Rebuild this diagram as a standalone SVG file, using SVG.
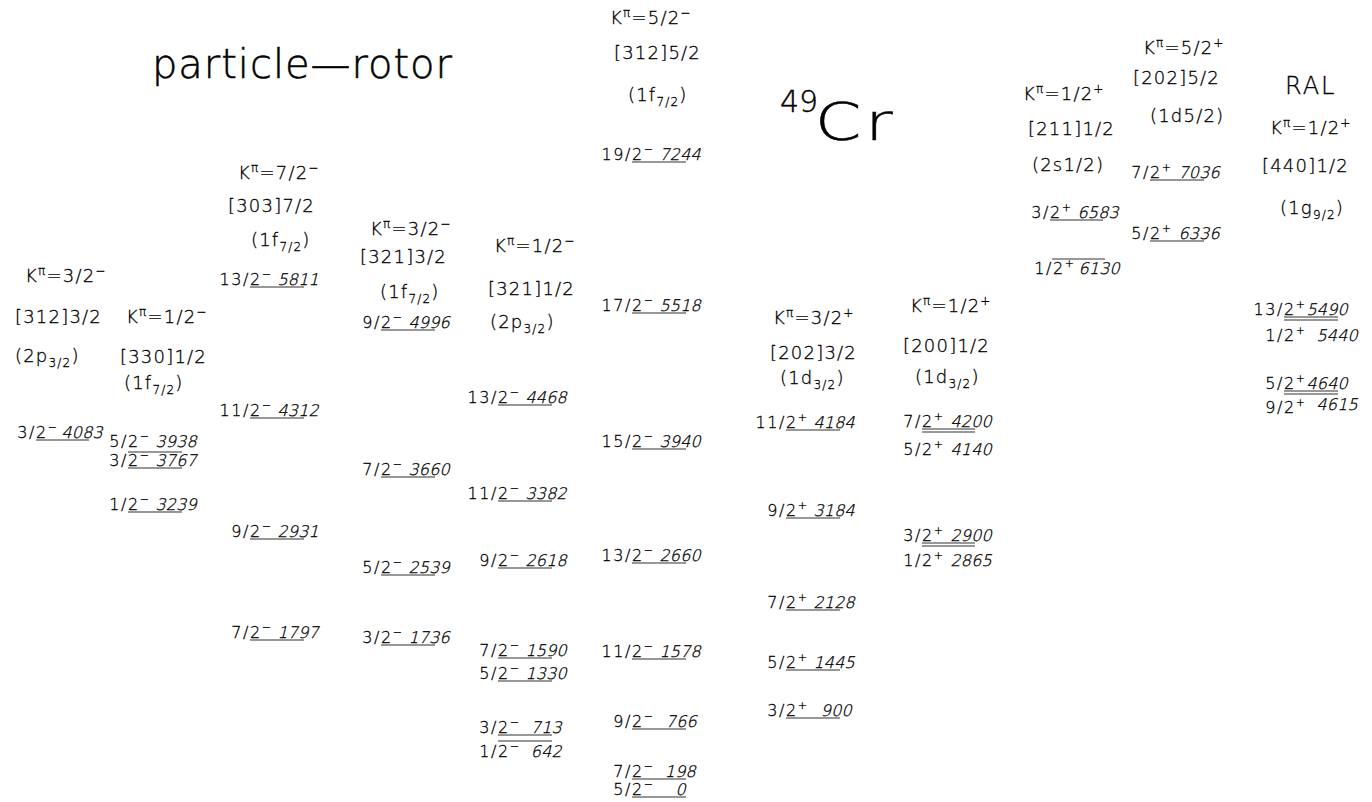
<svg xmlns="http://www.w3.org/2000/svg" width="1372" height="802" viewBox="0 0 1372 802">
<style>
text{font-family:"DejaVu Sans","Liberation Sans",sans-serif;fill:#000;font-weight:200;stroke:#000;stroke-width:0.3}
.hd{font-size:18px;letter-spacing:1.2px}
.lv{font-size:16px;letter-spacing:1.6px}
.en{font-size:16px;letter-spacing:0.2px}
.sp{font-size:11px}
.s2{font-size:12px}
.ln{stroke:#333;stroke-width:1.2;fill:none}
.title{font-size:40px;stroke-width:0.5}
</style>
<rect width="1372" height="802" fill="#fff"/>
<g id="titles">
<text class="title" x="152" y="78" textLength="300" lengthAdjust="spacing">particle—rotor</text>
<text x="780" y="112" style="font-size:30px;stroke-width:0.4">49</text>
<text transform="translate(815,140) scale(1.28,1)" style="font-size:52px;letter-spacing:3px;stroke-width:0.5">Cr</text>
<text x="1285" y="94" style="font-size:24px;letter-spacing:2px">RAL</text>
</g>
<g id="connectors"></g>

<g id="band1">
<text class="hd" x="25" y="282">K<tspan class="s2" dy="-7">π</tspan><tspan dy="7">=3/2</tspan><tspan class="s2" dy="-7">−</tspan></text>
<text class="hd" x="15" y="323">[312]3/2</text>
<text class="hd" x="15" y="362">(2p<tspan class="s2" dy="5">3/2</tspan><tspan dy="-5">)</tspan></text>
<g id="l1-4083"><text class="lv" x="36" y="438" text-anchor="end">3/</text><text class="lv" x="36" y="438">2<tspan class="sp" dy="-7">−</tspan></text><text class="en" transform="translate(103,438) skewX(-14)" text-anchor="end">4083</text><line class="ln" x1="36" y1="440" x2="89" y2="440"/></g>
</g>

<g id="band2">
<text class="hd" x="126" y="323">K<tspan class="s2" dy="-7">π</tspan><tspan dy="7">=1/2</tspan><tspan class="s2" dy="-7">−</tspan></text>
<text class="hd" x="120" y="363">[330]1/2</text>
<text class="hd" x="124" y="389">(1f<tspan class="s2" dy="5">7/2</tspan><tspan dy="-5">)</tspan></text>
<g id="l2-3938"><text class="lv" x="128" y="447" text-anchor="end">5/</text><text class="lv" x="128" y="447">2<tspan class="sp" dy="-7">−</tspan></text><text class="en" transform="translate(197,447) skewX(-14)" text-anchor="end">3938</text><line class="ln" x1="128" y1="452" x2="182" y2="452"/></g>
<g id="l2-3767"><text class="lv" x="128" y="466" text-anchor="end">3/</text><text class="lv" x="128" y="466">2<tspan class="sp" dy="-7">−</tspan></text><text class="en" transform="translate(197,466) skewX(-14)" text-anchor="end">3767</text><line class="ln" x1="128" y1="468" x2="182" y2="468"/></g>
<g id="l2-3239"><text class="lv" x="128" y="510" text-anchor="end">1/</text><text class="lv" x="128" y="510">2<tspan class="sp" dy="-7">−</tspan></text><text class="en" transform="translate(197,510) skewX(-14)" text-anchor="end">3239</text><line class="ln" x1="128" y1="512" x2="182" y2="512"/></g>
</g>

<g id="band3">
<text class="hd" x="238" y="179">K<tspan class="s2" dy="-7">π</tspan><tspan dy="7">=7/2</tspan><tspan class="s2" dy="-7">−</tspan></text>
<text class="hd" x="228" y="212">[303]7/2</text>
<text class="hd" x="251" y="246">(1f<tspan class="s2" dy="5">7/2</tspan><tspan dy="-5">)</tspan></text>
<g id="l3-5811"><text class="lv" x="250" y="285" text-anchor="end">13/</text><text class="lv" x="250" y="285">2<tspan class="sp" dy="-7">−</tspan></text><text class="en" transform="translate(319,285) skewX(-14)" text-anchor="end">5811</text><line class="ln" x1="250" y1="287" x2="304" y2="287"/></g>
<g id="l3-4312"><text class="lv" x="250" y="416" text-anchor="end">11/</text><text class="lv" x="250" y="416">2<tspan class="sp" dy="-7">−</tspan></text><text class="en" transform="translate(319,416) skewX(-14)" text-anchor="end">4312</text><line class="ln" x1="250" y1="418" x2="304" y2="418"/></g>
<g id="l3-2931"><text class="lv" x="250" y="537" text-anchor="end">9/</text><text class="lv" x="250" y="537">2<tspan class="sp" dy="-7">−</tspan></text><text class="en" transform="translate(319,537) skewX(-14)" text-anchor="end">2931</text><line class="ln" x1="250" y1="539" x2="304" y2="539"/></g>
<g id="l3-1797"><text class="lv" x="250" y="638" text-anchor="end">7/</text><text class="lv" x="250" y="638">2<tspan class="sp" dy="-7">−</tspan></text><text class="en" transform="translate(319,638) skewX(-14)" text-anchor="end">1797</text><line class="ln" x1="250" y1="640" x2="304" y2="640"/></g>
</g>

<g id="band4">
<text class="hd" x="370" y="235">K<tspan class="s2" dy="-7">π</tspan><tspan dy="7">=3/2</tspan><tspan class="s2" dy="-7">−</tspan></text>
<text class="hd" x="360" y="263">[321]3/2</text>
<text class="hd" x="380" y="298">(1f<tspan class="s2" dy="5">7/2</tspan><tspan dy="-5">)</tspan></text>
<g id="l4-4996"><text class="lv" x="381" y="328" text-anchor="end">9/</text><text class="lv" x="381" y="328">2<tspan class="sp" dy="-7">−</tspan></text><text class="en" transform="translate(450,328) skewX(-14)" text-anchor="end">4996</text><line class="ln" x1="381" y1="330" x2="435" y2="330"/></g>
<g id="l4-3660"><text class="lv" x="381" y="475" text-anchor="end">7/</text><text class="lv" x="381" y="475">2<tspan class="sp" dy="-7">−</tspan></text><text class="en" transform="translate(450,475) skewX(-14)" text-anchor="end">3660</text><line class="ln" x1="381" y1="477" x2="435" y2="477"/></g>
<g id="l4-2539"><text class="lv" x="381" y="573" text-anchor="end">5/</text><text class="lv" x="381" y="573">2<tspan class="sp" dy="-7">−</tspan></text><text class="en" transform="translate(450,573) skewX(-14)" text-anchor="end">2539</text><line class="ln" x1="381" y1="575" x2="435" y2="575"/></g>
<g id="l4-1736"><text class="lv" x="381" y="643" text-anchor="end">3/</text><text class="lv" x="381" y="643">2<tspan class="sp" dy="-7">−</tspan></text><text class="en" transform="translate(450,643) skewX(-14)" text-anchor="end">1736</text><line class="ln" x1="381" y1="645" x2="435" y2="645"/></g>
</g>

<g id="band5">
<text class="hd" x="494" y="252">K<tspan class="s2" dy="-7">π</tspan><tspan dy="7">=1/2</tspan><tspan class="s2" dy="-7">−</tspan></text>
<text class="hd" x="488" y="295">[321]1/2</text>
<text class="hd" x="490" y="328">(2p<tspan class="s2" dy="5">3/2</tspan><tspan dy="-5">)</tspan></text>
<g id="l5-4468"><text class="lv" x="498" y="403" text-anchor="end">13/</text><text class="lv" x="498" y="403">2<tspan class="sp" dy="-7">−</tspan></text><text class="en" transform="translate(567,403) skewX(-14)" text-anchor="end">4468</text><line class="ln" x1="498" y1="405" x2="552" y2="405"/></g>
<g id="l5-3382"><text class="lv" x="498" y="499" text-anchor="end">11/</text><text class="lv" x="498" y="499">2<tspan class="sp" dy="-7">−</tspan></text><text class="en" transform="translate(567,499) skewX(-14)" text-anchor="end">3382</text><line class="ln" x1="498" y1="501" x2="552" y2="501"/></g>
<g id="l5-2618"><text class="lv" x="498" y="566" text-anchor="end">9/</text><text class="lv" x="498" y="566">2<tspan class="sp" dy="-7">−</tspan></text><text class="en" transform="translate(567,566) skewX(-14)" text-anchor="end">2618</text><line class="ln" x1="498" y1="568" x2="552" y2="568"/></g>
<g id="l5-1590"><text class="lv" x="498" y="656" text-anchor="end">7/</text><text class="lv" x="498" y="656">2<tspan class="sp" dy="-7">−</tspan></text><text class="en" transform="translate(567,656) skewX(-14)" text-anchor="end">1590</text><line class="ln" x1="498" y1="658" x2="552" y2="658"/></g>
<g id="l5-1330"><text class="lv" x="498" y="679" text-anchor="end">5/</text><text class="lv" x="498" y="679">2<tspan class="sp" dy="-7">−</tspan></text><text class="en" transform="translate(567,679) skewX(-14)" text-anchor="end">1330</text><line class="ln" x1="498" y1="681" x2="552" y2="681"/></g>
<g id="l5-713"><text class="lv" x="498" y="733" text-anchor="end">3/</text><text class="lv" x="498" y="733">2<tspan class="sp" dy="-7">−</tspan></text><text class="en" transform="translate(562,733) skewX(-14)" text-anchor="end">713</text><line class="ln" x1="498" y1="735" x2="552" y2="735"/></g>
<g id="l5-642"><text class="lv" x="498" y="757" text-anchor="end">1/</text><text class="lv" x="498" y="757">2<tspan class="sp" dy="-7">−</tspan></text><text class="en" transform="translate(562,757) skewX(-14)" text-anchor="end">642</text><line class="ln" x1="498" y1="741" x2="552" y2="741"/></g>
</g>

<g id="band6">
<text class="hd" x="610" y="24">K<tspan class="s2" dy="-7">π</tspan><tspan dy="7">=5/2</tspan><tspan class="s2" dy="-7">−</tspan></text>
<text class="hd" x="614" y="59">[312]5/2</text>
<text class="hd" x="628" y="101">(1f<tspan class="s2" dy="5">7/2</tspan><tspan dy="-5">)</tspan></text>
<g id="l6-7244"><text class="lv" x="632" y="160" text-anchor="end">19/</text><text class="lv" x="632" y="160">2<tspan class="sp" dy="-7">−</tspan></text><text class="en" transform="translate(701,160) skewX(-14)" text-anchor="end">7244</text><line class="ln" x1="632" y1="162" x2="686" y2="162"/></g>
<g id="l6-5518"><text class="lv" x="632" y="311" text-anchor="end">17/</text><text class="lv" x="632" y="311">2<tspan class="sp" dy="-7">−</tspan></text><text class="en" transform="translate(701,311) skewX(-14)" text-anchor="end">5518</text><line class="ln" x1="632" y1="313" x2="686" y2="313"/></g>
<g id="l6-3940"><text class="lv" x="632" y="447" text-anchor="end">15/</text><text class="lv" x="632" y="447">2<tspan class="sp" dy="-7">−</tspan></text><text class="en" transform="translate(701,447) skewX(-14)" text-anchor="end">3940</text><line class="ln" x1="632" y1="449" x2="686" y2="449"/></g>
<g id="l6-2660"><text class="lv" x="632" y="561" text-anchor="end">13/</text><text class="lv" x="632" y="561">2<tspan class="sp" dy="-7">−</tspan></text><text class="en" transform="translate(701,561) skewX(-14)" text-anchor="end">2660</text><line class="ln" x1="632" y1="563" x2="686" y2="563"/></g>
<g id="l6-1578"><text class="lv" x="632" y="657" text-anchor="end">11/</text><text class="lv" x="632" y="657">2<tspan class="sp" dy="-7">−</tspan></text><text class="en" transform="translate(701,657) skewX(-14)" text-anchor="end">1578</text><line class="ln" x1="632" y1="659" x2="686" y2="659"/></g>
<g id="l6-766"><text class="lv" x="632" y="727" text-anchor="end">9/</text><text class="lv" x="632" y="727">2<tspan class="sp" dy="-7">−</tspan></text><text class="en" transform="translate(697,727) skewX(-14)" text-anchor="end">766</text><line class="ln" x1="632" y1="729" x2="686" y2="729"/></g>
<g id="l6-198"><text class="lv" x="632" y="777" text-anchor="end">7/</text><text class="lv" x="632" y="777">2<tspan class="sp" dy="-7">−</tspan></text><text class="en" transform="translate(696,777) skewX(-14)" text-anchor="end">198</text><line class="ln" x1="632" y1="779" x2="686" y2="779"/></g>
<g id="l6-0"><text class="lv" x="632" y="795" text-anchor="end">5/</text><text class="lv" x="632" y="795">2<tspan class="sp" dy="-7">−</tspan></text><text class="en" transform="translate(686,795) skewX(-14)" text-anchor="end">0</text><line class="ln" x1="632" y1="797" x2="686" y2="797"/></g>
</g>

<g id="band7">
<text class="hd" x="773" y="324">K<tspan class="s2" dy="-7">π</tspan><tspan dy="7">=3/2</tspan><tspan class="s2" dy="-7">+</tspan></text>
<text class="hd" x="770" y="359">[202]3/2</text>
<text class="hd" x="780" y="384">(1d<tspan class="s2" dy="5">3/2</tspan><tspan dy="-5">)</tspan></text>
<g id="l7-4184"><text class="lv" x="786" y="428" text-anchor="end">11/</text><text class="lv" x="786" y="428">2<tspan class="sp" dy="-7">+</tspan></text><text class="en" transform="translate(855,428) skewX(-14)" text-anchor="end">4184</text><line class="ln" x1="786" y1="430" x2="840" y2="430"/></g>
<g id="l7-3184"><text class="lv" x="786" y="516" text-anchor="end">9/</text><text class="lv" x="786" y="516">2<tspan class="sp" dy="-7">+</tspan></text><text class="en" transform="translate(855,516) skewX(-14)" text-anchor="end">3184</text><line class="ln" x1="786" y1="518" x2="840" y2="518"/></g>
<g id="l7-2128"><text class="lv" x="786" y="608" text-anchor="end">7/</text><text class="lv" x="786" y="608">2<tspan class="sp" dy="-7">+</tspan></text><text class="en" transform="translate(855,608) skewX(-14)" text-anchor="end">2128</text><line class="ln" x1="786" y1="610" x2="840" y2="610"/></g>
<g id="l7-1445"><text class="lv" x="786" y="668" text-anchor="end">5/</text><text class="lv" x="786" y="668">2<tspan class="sp" dy="-7">+</tspan></text><text class="en" transform="translate(855,668) skewX(-14)" text-anchor="end">1445</text><line class="ln" x1="786" y1="670" x2="840" y2="670"/></g>
<g id="l7-900"><text class="lv" x="786" y="716" text-anchor="end">3/</text><text class="lv" x="786" y="716">2<tspan class="sp" dy="-7">+</tspan></text><text class="en" transform="translate(852,716) skewX(-14)" text-anchor="end">900</text><line class="ln" x1="786" y1="718" x2="840" y2="718"/></g>
</g>

<g id="band8">
<text class="hd" x="910" y="312">K<tspan class="s2" dy="-7">π</tspan><tspan dy="7">=1/2</tspan><tspan class="s2" dy="-7">+</tspan></text>
<text class="hd" x="903" y="352">[200]1/2</text>
<text class="hd" x="915" y="383">(1d<tspan class="s2" dy="5">3/2</tspan><tspan dy="-5">)</tspan></text>
<g id="l8-4200"><text class="lv" x="922" y="427" text-anchor="end">7/</text><text class="lv" x="922" y="427">2<tspan class="sp" dy="-7">+</tspan></text><text class="en" transform="translate(992,427) skewX(-14)" text-anchor="end">4200</text><line class="ln" x1="922" y1="429" x2="975" y2="429"/><line class="ln" x1="922" y1="432" x2="975" y2="432"/></g>
<g id="l8-4140"><text class="lv" x="922" y="455" text-anchor="end">5/</text><text class="lv" x="922" y="455">2<tspan class="sp" dy="-7">+</tspan></text><text class="en" transform="translate(992,455) skewX(-14)" text-anchor="end">4140</text></g>
<g id="l8-2900"><text class="lv" x="922" y="541" text-anchor="end">3/</text><text class="lv" x="922" y="541">2<tspan class="sp" dy="-7">+</tspan></text><text class="en" transform="translate(992,541) skewX(-14)" text-anchor="end">2900</text><line class="ln" x1="922" y1="543" x2="975" y2="543"/><line class="ln" x1="922" y1="546" x2="975" y2="546"/></g>
<g id="l8-2865"><text class="lv" x="922" y="566" text-anchor="end">1/</text><text class="lv" x="922" y="566">2<tspan class="sp" dy="-7">+</tspan></text><text class="en" transform="translate(992,566) skewX(-14)" text-anchor="end">2865</text></g>
</g>

<g id="band9">
<text class="hd" x="1023" y="100">K<tspan class="s2" dy="-7">π</tspan><tspan dy="7">=1/2</tspan><tspan class="s2" dy="-7">+</tspan></text>
<text class="hd" x="1028" y="135">[211]1/2</text>
<text class="hd" x="1032" y="171">(2s1/2)</text>
<g id="l9-6583"><text class="lv" x="1050" y="218" text-anchor="end">3/</text><text class="lv" x="1050" y="218">2<tspan class="sp" dy="-7">+</tspan></text><text class="en" transform="translate(1119,218) skewX(-14)" text-anchor="end">6583</text><line class="ln" x1="1050" y1="220" x2="1103" y2="220"/></g>
<g id="l9-6130"><text class="lv" x="1053" y="274" text-anchor="end">1/</text><text class="lv" x="1053" y="274">2<tspan class="sp" dy="-7">+</tspan></text><text class="en" transform="translate(1120,274) skewX(-14)" text-anchor="end">6130</text><line class="ln" x1="1052" y1="259" x2="1105" y2="259"/></g>
</g>

<g id="band10">
<text class="hd" x="1143" y="54">K<tspan class="s2" dy="-7">π</tspan><tspan dy="7">=5/2</tspan><tspan class="s2" dy="-7">+</tspan></text>
<text class="hd" x="1133" y="84">[202]5/2</text>
<text class="hd" x="1150" y="122">(1d5/2)</text>
<g id="l10-7036"><text class="lv" x="1150" y="178" text-anchor="end">7/</text><text class="lv" x="1150" y="178">2<tspan class="sp" dy="-7">+</tspan></text><text class="en" transform="translate(1220,178) skewX(-14)" text-anchor="end">7036</text><line class="ln" x1="1150" y1="180" x2="1204" y2="180"/></g>
<g id="l10-6336"><text class="lv" x="1150" y="239" text-anchor="end">5/</text><text class="lv" x="1150" y="239">2<tspan class="sp" dy="-7">+</tspan></text><text class="en" transform="translate(1220,239) skewX(-14)" text-anchor="end">6336</text><line class="ln" x1="1150" y1="241" x2="1204" y2="241"/></g>
</g>

<g id="band11">
<text class="hd" x="1270" y="134">K<tspan class="s2" dy="-7">π</tspan><tspan dy="7">=1/2</tspan><tspan class="s2" dy="-7">+</tspan></text>
<text class="hd" x="1262" y="172">[440]1/2</text>
<text class="hd" x="1280" y="214">(1g<tspan class="s2" dy="5">9/2</tspan><tspan dy="-5">)</tspan></text>
<g id="l11-5490"><text class="lv" x="1284" y="315" text-anchor="end">13/</text><text class="lv" x="1284" y="315">2<tspan class="sp" dy="-7">+</tspan></text><text class="en" transform="translate(1348,315) skewX(-14)" text-anchor="end">5490</text><line class="ln" x1="1284" y1="317" x2="1338" y2="317"/><line class="ln" x1="1284" y1="320" x2="1338" y2="320"/></g>
<g id="l11-5440"><text class="lv" x="1284" y="341" text-anchor="end">1/</text><text class="lv" x="1284" y="341">2<tspan class="sp" dy="-7">+</tspan></text><text class="en" transform="translate(1358,341) skewX(-14)" text-anchor="end">5440</text></g>
<g id="l11-4640"><text class="lv" x="1284" y="389" text-anchor="end">5/</text><text class="lv" x="1284" y="389">2<tspan class="sp" dy="-7">+</tspan></text><text class="en" transform="translate(1348,389) skewX(-14)" text-anchor="end">4640</text><line class="ln" x1="1284" y1="391" x2="1338" y2="391"/><line class="ln" x1="1284" y1="394" x2="1338" y2="394"/></g>
<g id="l11-4615"><text class="lv" x="1284" y="413" text-anchor="end">9/</text><text class="lv" x="1284" y="413">2<tspan class="sp" dy="-7">+</tspan></text><text class="en" transform="translate(1358,410) skewX(-14)" text-anchor="end">4615</text></g>
</g>
</svg>
